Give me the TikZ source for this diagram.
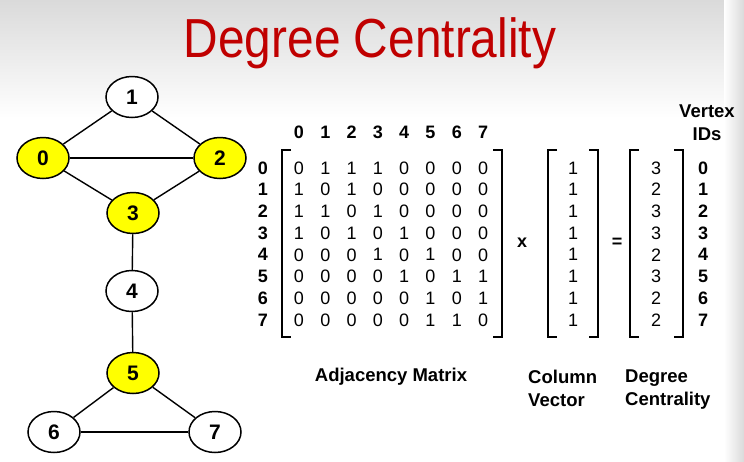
\documentclass[tikz,border=0pt]{standalone}
\usepackage{fontspec}
\setmainfont{Liberation Sans}
\usetikzlibrary{positioning, shapes.geometric}
\definecolor{dcTitle}{HTML}{C00000}
\definecolor{dcHot}{HTML}{FFFF00}
\definecolor{dcBack}{HTML}{DADADA}
\tikzset{
    dcVertexBase/.style={
        ellipse,
        draw,
        line width=1.5pt,
        minimum width=52pt,
        minimum height=41pt,
        inner sep=0pt,
        fill=white,
        font=\fontsize{21}{21}\selectfont\bfseries
    },
    % vertex variants
    hot/.style={dcVertexBase, fill=dcHot},
    cold/.style={dcVertexBase},
    % matrix text
    dcEntry/.style={font=\fontsize{18}{18}\selectfont, inner sep=0pt},
    dcIndex/.style={font=\fontsize{18}{18}\selectfont\bfseries, inner sep=0pt},
    dcCaption/.style={font=\fontsize{18.5}{23}\selectfont\bfseries, align=left, inner sep=0pt},
    % lines
    dcEdge/.style={line width=1.4pt},
    dcBracket/.style={line width=1.8pt}
}

\begin{document}
\begin{tikzpicture}[x=1pt, y=-1pt]
    \useasboundingbox (0,0) rectangle (744,461);
    \fill[white] (0,0) rectangle (744,461);
    \fill[top color=dcBack, bottom color=white] (0,0) rectangle (744,118);
    \fill[left color=white, right color=dcBack] (724,0) rectangle (744,461);

    \node[text=dcTitle, font=\fontsize{55}{55}\selectfont] (title) at (370,43) {\scalebox{0.87}[1]{Degree Centrality}};

    % graph
    \node[cold] (v1) at (132,97) {1};
    \node[hot] (v0) at (43,158) {0};
    \node[hot] (v2) at (220,158) {2};
    \node[hot] (v3) at (133,213) {3};
    \node[cold] (v4) at (132,291) {4};
    \node[hot] (v5) at (133,373) {5};
    \node[cold] (v6) at (54,432) {6};
    \node[cold] (v7) at (215,432) {7};
    \draw[dcEdge] (v0) -- (v1);
    \draw[dcEdge] (v1) -- (v2);
    \draw[dcEdge] (v0) -- (v2);
    \draw[dcEdge] (v0) -- (v3);
    \draw[dcEdge] (v2) -- (v3);
    \draw[dcEdge] (v3) -- (v4);
    \draw[dcEdge] (v4) -- (v5);
    \draw[dcEdge] (v5) -- (v6);
    \draw[dcEdge] (v5) -- (v7);
    \draw[dcEdge] (v6) -- (v7);

    % adjacency matrix
    \foreach \r/\row in {0/{0,1,1,1,0,0,0,0}, 1/{1,0,1,0,0,0,0,0}, 2/{1,1,0,1,0,0,0,0}, 3/{1,0,1,0,1,0,0,0},
                         4/{0,0,0,1,0,1,0,0}, 5/{0,0,0,0,1,0,1,1}, 6/{0,0,0,0,0,1,0,1}, 7/{0,0,0,0,0,1,1,0}} {
        \node[dcIndex] (row\r) at (263,168+21.7*\r) {\r};
        \node[dcIndex] (col\r) at (299+26.3*\r,132) {\r};
        \foreach \v [count=\c from 0] in \row
            \node[dcEntry] (m\r\c) at (299+26.3*\c,168+21.7*\r) {\v};
    }
    \draw[dcBracket] (291,150) -- (282,150) -- (282,337) -- (291,337);
    \draw[dcBracket] (493,150) -- (502,150) -- (502,337) -- (493,337);

    \node[dcIndex] (times) at (522,243) {x};

    % column vector and result
    \foreach \r/\d in {0/3, 1/2, 2/3, 3/3, 4/2, 5/3, 6/2, 7/2} {
        \node[dcEntry] (one\r) at (573,168+21.7*\r) {1};
        \node[dcEntry] (deg\r) at (656,168+21.7*\r) {\d};
        \node[dcIndex] (id\r) at (703,168+21.7*\r) {\r};
    }
    \draw[dcBracket] (557,150) -- (548,150) -- (548,337) -- (557,337);
    \draw[dcBracket] (589,150) -- (598,150) -- (598,337) -- (589,337);
    \node[dcIndex] (equals) at (617,243) {=};
    \draw[dcBracket] (639,150) -- (630,150) -- (630,337) -- (639,337);
    \draw[dcBracket] (674,150) -- (683,150) -- (683,337) -- (674,337);

    % captions
    \node[dcCaption, align=center] (ids) at (707,123) {Vertex\\IDs};
    \node[dcCaption] (adj) at (391,377) {Adjacency Matrix};
    \node[dcCaption, anchor=north west] (colvec) at (528,370) {Column\\Vector};
    \node[dcCaption, anchor=north west] (degcap) at (625,370) {Degree\\Centrality};
\end{tikzpicture}
\end{document}
